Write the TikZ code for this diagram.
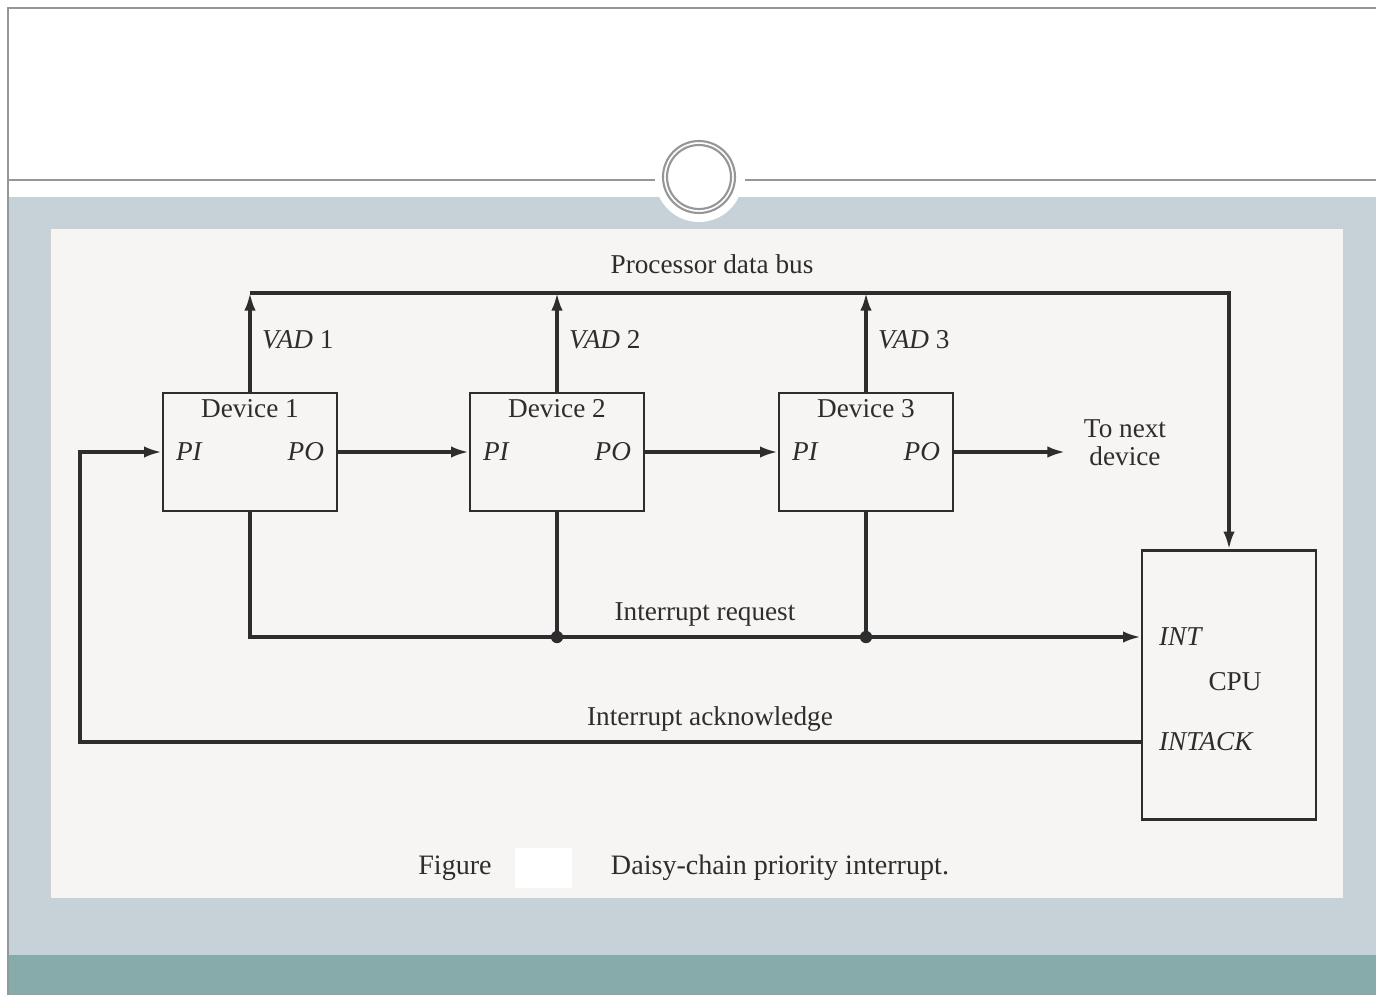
\documentclass[tikz,border=0pt]{standalone}
\usepackage{fontspec}
\setmainfont{Liberation Serif}
\usepackage{xcolor}
\usetikzlibrary{arrows.meta, positioning}
\definecolor{cink}   {RGB}{45,45,45}
\definecolor{cpaper} {RGB}{247,245,243}
\definecolor{cslate} {RGB}{198,209,216}
\definecolor{cteal}  {RGB}{135,170,170}
\definecolor{crule}  {RGB}{150,150,150}
\tikzset{
  dev/.style={rectangle, draw=cink, line width=1.6pt, fill=cpaper,
              minimum width=3.48cm, minimum height=2.36cm},
  cpubox/.style={dev, minimum height=5.38cm},
  wire/.style={line width=1.8pt, draw=cink},
  arr/.style={wire, -{Latex[length=10pt,width=6.5pt]}},
  lbl/.style={font=\fontsize{15.5}{16}\selectfont, text=cink, inner sep=1pt, align=center},
  sig/.style={lbl, font=\fontsize{15.5}{16}\selectfont\itshape},
  captxt/.style={lbl, font=\fontsize{16}{18}\selectfont},
  dot/.style={circle, fill=cink, inner sep=0pt, minimum size=7pt},
}

\begin{document}
\begin{tikzpicture}[x=0.02cm, y=-0.02cm]
  \useasboundingbox (0,0) rectangle (1376,995);
  % ── Slide frame ────────────────────────────────────────────────────────────
  \fill[white]  (0,0) rectangle (1376,995);
  \fill[cslate] (8,197) rectangle (1376,955);
  \fill[cteal]  (8,955) rectangle (1376,995);
  \draw[crule, line width=1.2pt] (8,995) -- (8,8) -- (1376,8);
  \draw[crule, line width=1pt] (8,180) -- (655,180);
  \draw[crule, line width=1pt] (745,180) -- (1376,180);
  \fill[white] (699,178) circle (0.88cm);
  \draw[crule, line width=1.2pt] (699,177) circle (0.72cm);
  \draw[crule, line width=1.2pt] (699,177) circle (0.64cm);
  \fill[cpaper] (51,229) rectangle (1343,898);

  % ── Devices ────────────────────────────────────────────────────────────────
  \node[dev] at (250,452) (dev1) {};
  \node[dev] at (557,452) (dev2) {};
  \node[dev] at (866,452) (dev3) {};
  \node[lbl, below=3pt of dev1.north] (name1) {Device 1};
  \node[lbl, below=3pt of dev2.north] (name2) {Device 2};
  \node[lbl, below=3pt of dev3.north] (name3) {Device 3};
  \node[sig, right=7pt of dev1.west] (pi1) {PI};
  \node[sig, left=7pt of dev1.east]  (po1) {PO};
  \node[sig, right=7pt of dev2.west] (pi2) {PI};
  \node[sig, left=7pt of dev2.east]  (po2) {PO};
  \node[sig, right=7pt of dev3.west] (pi3) {PI};
  \node[sig, left=7pt of dev3.east]  (po3) {PO};

  % ── CPU ────────────────────────────────────────────────────────────────────
  \node[cpubox] at (1229,685) (cpu) {};
  \node[sig, anchor=west] at (1157,637) (int) {INT};
  \node[lbl] at (1235,682) (cpuname) {CPU};
  \node[sig, anchor=west] at (1157,742) (intack) {INTACK};

  % ── Labels ─────────────────────────────────────────────────────────────────
  \node[lbl] at (712,264) (buslbl) {Processor data bus};
  \node[lbl] at (1125,443) (tonext) {To next\\device};
  \node[lbl] at (705,614) (reqlbl) {Interrupt request};
  \node[lbl] at (710,719) (acklbl) {Interrupt acknowledge};
  \fill[white] (515,848) rectangle (572,888);
  \node[captxt] at (455,868) (figword) {Figure};
  \node[captxt] at (780,868) (figtitle) {Daisy-chain priority interrupt.};

  % ── Arrows ─────────────────────────────────────────────────────────────────
  \coordinate (busL) at (250,293);
  \coordinate (busR) at (1229,293);
  \coordinate (nextdev) at (1065,452);
  \coordinate (ackL) at (80,742);
  \draw[arr] (busL) -- (busR) -- (cpu.north);
  \draw[arr] (dev1.north) -- node[sig, pos=0.53, right=5pt] {VAD\/ \upshape 1} (dev1.north |- busL);
  \draw[arr] (dev2.north) -- node[sig, pos=0.53, right=5pt] {VAD\/ \upshape 2} (dev2.north |- busL);
  \draw[arr] (dev3.north) -- node[sig, pos=0.53, right=5pt] {VAD\/ \upshape 3} (dev3.north |- busL);
  \draw[arr] (dev1.east) -- (dev2.west);
  \draw[arr] (dev2.east) -- (dev3.west);
  \draw[arr] (dev3.east) -- (nextdev);
  \draw[arr] (dev1.south) |- (cpu.west |- int.west);
  \node[dot] at (dev2.south |- int.west) (j2) {};
  \node[dot] at (dev3.south |- int.west) (j3) {};
  \draw[wire] (dev2.south) -- (j2.center);
  \draw[wire] (dev3.south) -- (j3.center);
  \draw[arr] (cpu.west |- ackL) -- (ackL) |- (dev1.west);
\end{tikzpicture}
\end{document}
